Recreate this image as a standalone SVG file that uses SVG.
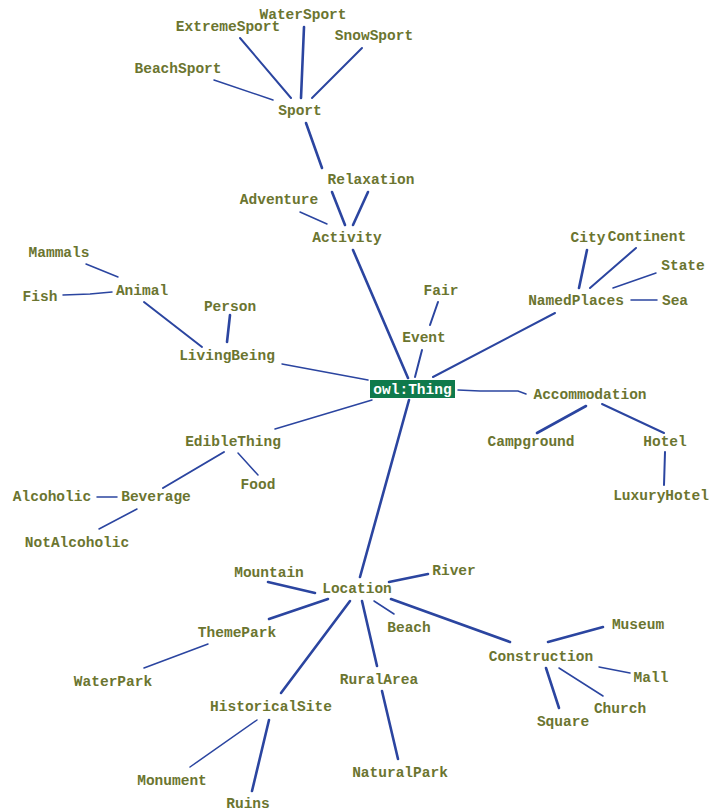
<svg xmlns="http://www.w3.org/2000/svg" width="709" height="811" viewBox="0 0 709 811">
<style>
  text { font-family: "Liberation Mono", "DejaVu Sans Mono", monospace; font-weight: bold; font-size: 14.5px; fill: #6b7530; text-anchor: middle; }
  .root text { fill: #ffffff; }
  #edges line, #edges path { stroke: #2b45a0; stroke-width: 2; fill: none; stroke-linecap: round; }
  #edges .thin { stroke-width: 1.5; }
  #edges .thick { stroke-width: 2.6; }
</style>
<rect width="709" height="811" fill="#ffffff"/>
<g id="edges">
  <line x1="240" y1="38" x2="291" y2="98"/>
  <line class="thick" x1="304" y1="27" x2="301" y2="98"/>
  <line x1="362" y1="48" x2="312" y2="98"/>
  <line class="thin" x1="214" y1="80" x2="273" y2="100"/>
  <path class="thick" d="M306,123 L322,168 M332,192 L345,225"/>
  <line class="thick" x1="368" y1="192" x2="353" y2="225"/>
  <line class="thin" x1="300" y1="212" x2="327" y2="224"/>
  <line class="thick" x1="353" y1="250" x2="408" y2="378"/>
  <line x1="422" y1="350" x2="415" y2="377"/>
  <line x1="438" y1="302" x2="430" y2="325"/>
  <line x1="555" y1="313" x2="433" y2="377"/>
  <line class="thick" x1="587" y1="250" x2="579" y2="288"/>
  <line x1="636" y1="248" x2="590" y2="288"/>
  <line class="thin" x1="656" y1="273" x2="613" y2="288"/>
  <line class="thin" x1="631" y1="300" x2="657" y2="300"/>
  <path class="thin" d="M458,390 L480,391 L518,391 L526,394"/>
  <line class="thin" x1="282" y1="364" x2="368" y2="380"/>
  <line x1="144" y1="302" x2="202" y2="347"/>
  <line class="thick" x1="230" y1="315" x2="227" y2="342"/>
  <line class="thin" x1="86" y1="264" x2="118" y2="277"/>
  <path class="thin" d="M63,295 L90,294 L112,292"/>
  <line class="thin" x1="275" y1="429" x2="372" y2="400"/>
  <line x1="224" y1="452" x2="163" y2="488"/>
  <line class="thin" x1="238" y1="453" x2="258" y2="475"/>
  <line class="thin" x1="97" y1="497" x2="117" y2="497"/>
  <line class="thin" x1="137" y1="509" x2="99" y2="529"/>
  <line class="thick" x1="586" y1="406" x2="537" y2="433"/>
  <line x1="602" y1="404" x2="664" y2="433"/>
  <line x1="665" y1="452" x2="664" y2="485"/>
  <line class="thick" x1="409" y1="400" x2="360" y2="577"/>
  <line class="thick" x1="389" y1="582" x2="428" y2="574"/>
  <line class="thick" x1="268" y1="582" x2="315" y2="593"/>
  <line class="thick" x1="328" y1="599" x2="269" y2="619"/>
  <line class="thin" x1="208" y1="644" x2="144" y2="668"/>
  <line class="thick" x1="350" y1="601" x2="281" y2="693"/>
  <line class="thick" x1="362" y1="601" x2="377" y2="666"/>
  <line class="thin" x1="374" y1="601" x2="394" y2="614"/>
  <line class="thick" x1="391" y1="599" x2="510" y2="642"/>
  <line class="thick" x1="548" y1="642" x2="603" y2="627"/>
  <line class="thin" x1="599" y1="667" x2="630" y2="673"/>
  <line class="thin" x1="559" y1="668" x2="603" y2="696"/>
  <line class="thick" x1="546" y1="668" x2="559" y2="708"/>
  <line class="thin" x1="257" y1="720" x2="190" y2="767"/>
  <line class="thick" x1="269" y1="720" x2="252" y2="791"/>
  <line class="thick" x1="382" y1="691" x2="398" y2="759"/>
</g>
<g id="n-WaterSport"><text x="303" y="19">WaterSport</text></g>
<g id="n-ExtremeSport"><text x="228" y="31">ExtremeSport</text></g>
<g id="n-SnowSport"><text x="374" y="40">SnowSport</text></g>
<g id="n-BeachSport"><text x="178" y="73">BeachSport</text></g>
<g id="n-Sport"><text x="300" y="115">Sport</text></g>
<g id="n-Relaxation"><text x="371" y="184">Relaxation</text></g>
<g id="n-Adventure"><text x="279" y="204">Adventure</text></g>
<g id="n-Activity"><text x="347" y="242">Activity</text></g>
<g id="n-Mammals"><text x="59" y="257">Mammals</text></g>
<g id="n-Fish"><text x="40" y="301">Fish</text></g>
<g id="n-Animal"><text x="142" y="295">Animal</text></g>
<g id="n-Person"><text x="230" y="311">Person</text></g>
<g id="n-LivingBeing"><text x="227" y="360">LivingBeing</text></g>
<g id="n-Fair"><text x="441" y="295">Fair</text></g>
<g id="n-Event"><text x="424" y="342">Event</text></g>
<g id="n-City"><text x="588" y="242">City</text></g>
<g id="n-Continent"><text x="647" y="241">Continent</text></g>
<g id="n-State"><text x="683" y="270">State</text></g>
<g id="n-NamedPlaces"><text x="576" y="305">NamedPlaces</text></g>
<g id="n-Sea"><text x="675" y="305">Sea</text></g>
<g id="n-owlThing" class="root"><rect x="370" y="380" width="85" height="18" fill="#0f7a4c"/><text x="412.5" y="393.5">owl:Thing</text></g>
<g id="n-Accommodation"><text x="590" y="399">Accommodation</text></g>
<g id="n-Campground"><text x="531" y="446">Campground</text></g>
<g id="n-Hotel"><text x="665" y="446">Hotel</text></g>
<g id="n-LuxuryHotel"><text x="661" y="500">LuxuryHotel</text></g>
<g id="n-EdibleThing"><text x="233" y="446">EdibleThing</text></g>
<g id="n-Food"><text x="258" y="489">Food</text></g>
<g id="n-Alcoholic"><text x="52" y="501">Alcoholic</text></g>
<g id="n-Beverage"><text x="156" y="501">Beverage</text></g>
<g id="n-NotAlcoholic"><text x="77" y="547">NotAlcoholic</text></g>
<g id="n-Mountain"><text x="269" y="577">Mountain</text></g>
<g id="n-Location"><text x="357" y="593">Location</text></g>
<g id="n-River"><text x="454" y="575">River</text></g>
<g id="n-ThemePark"><text x="237" y="637">ThemePark</text></g>
<g id="n-Beach"><text x="409" y="632">Beach</text></g>
<g id="n-WaterPark"><text x="113" y="686">WaterPark</text></g>
<g id="n-RuralArea"><text x="379" y="684">RuralArea</text></g>
<g id="n-Construction"><text x="541" y="661">Construction</text></g>
<g id="n-Museum"><text x="638" y="629">Museum</text></g>
<g id="n-Mall"><text x="651" y="682">Mall</text></g>
<g id="n-Church"><text x="620" y="713">Church</text></g>
<g id="n-Square"><text x="563" y="726">Square</text></g>
<g id="n-HistoricalSite"><text x="271" y="711">HistoricalSite</text></g>
<g id="n-Monument"><text x="172" y="785">Monument</text></g>
<g id="n-Ruins"><text x="248" y="808">Ruins</text></g>
<g id="n-NaturalPark"><text x="400" y="777">NaturalPark</text></g>
</svg>
